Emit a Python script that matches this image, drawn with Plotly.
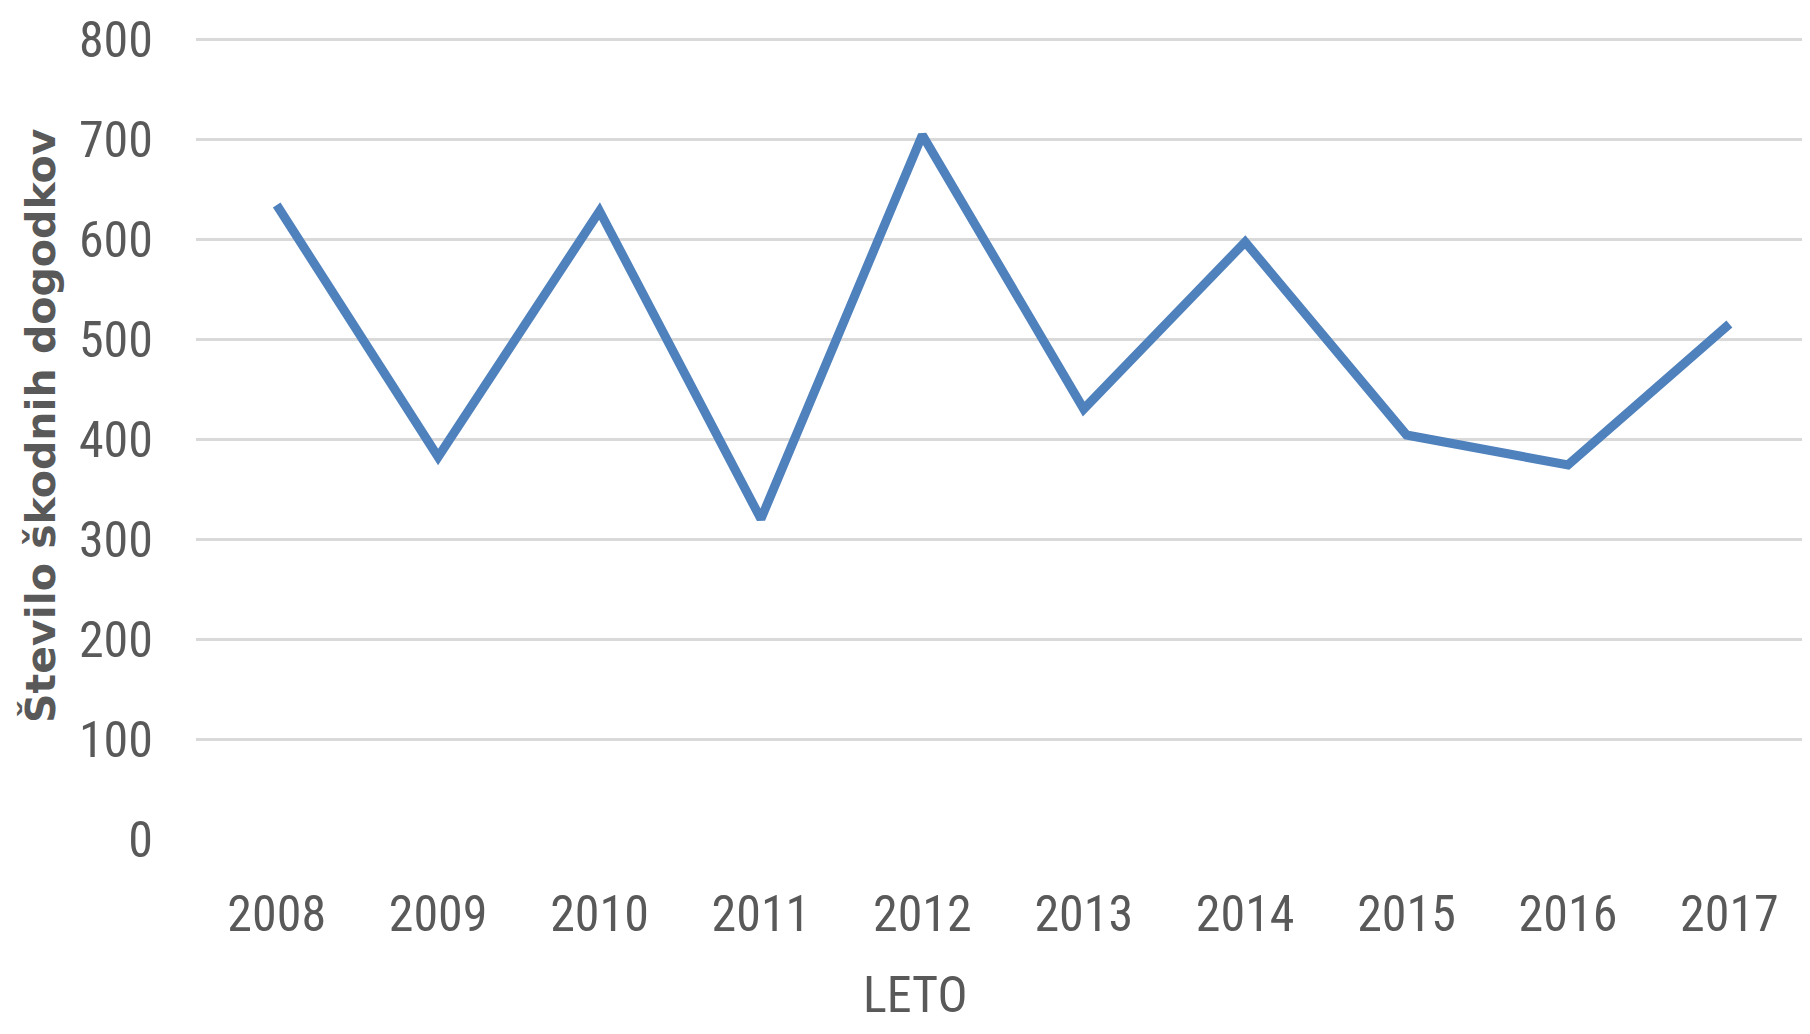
import plotly.graph_objects as go

years = ["2008", "2009", "2010", "2011", "2012", "2013", "2014", "2015", "2016", "2017"]
events = [634, 382, 628, 320, 704, 430, 597, 404, 374, 515]
y_ticks = [0, 100, 200, 300, 400, 500, 600, 700, 800]

# page body has an 8px margin; layout numbers below are in figure pixels
W, H = 1794, 1018
ML, MR, MT, MB = 188, 0, 29, 187
TICK_FONT = "Liberation Sans Narrow, Roboto Condensed, DejaVu Sans Condensed, Liberation Sans, sans-serif"
GRAY = "#595959"
PW, PH = W - ML - MR, H - MT - MB

fig = go.Figure()
fig.add_trace(go.Scatter(
    x=years, y=events, mode="lines",
    line=dict(color="#4F81BD", width=9),
    hoverinfo="x+y", showlegend=False,
))

fig.update_layout(
    width=W, height=H,
    margin=dict(l=ML, r=MR, t=MT, b=MB),
    paper_bgcolor="white", plot_bgcolor="white",
    xaxis=dict(
        type="category", range=[-0.5, 9.45],
        showgrid=False, zeroline=False, showline=False,
        tickfont=dict(family=TICK_FONT, size=50, color=GRAY),
        ticklabelstandoff=41,
    ),
    yaxis=dict(
        range=[0, 802], tickvals=y_ticks,
        showgrid=True, gridcolor="#D9D9D9", gridwidth=2.5,
        zeroline=False, showline=False,
        tickfont=dict(family=TICK_FONT, size=50, color=GRAY),
        ticklabelstandoff=42,
    ),
    annotations=[
        dict(text="LETO", xref="paper", yref="paper",
             x=(907 - ML) / PW, y=-(1018 - (H - MB)) / PH,
             xanchor="center", yanchor="bottom", showarrow=False,
             font=dict(family=TICK_FONT, size=50, color=GRAY)),
        dict(text="<b>Število škodnih dogodkov</b>", xref="paper", yref="paper",
             x=(33 - ML) / PW, y=((H - MB) - 418) / PH,
             xanchor="center", yanchor="middle", showarrow=False, textangle=-90,
             font=dict(family="DejaVu Sans, Liberation Sans, sans-serif", size=41, color=GRAY)),
    ],
)

fig.write_html("out.html")
